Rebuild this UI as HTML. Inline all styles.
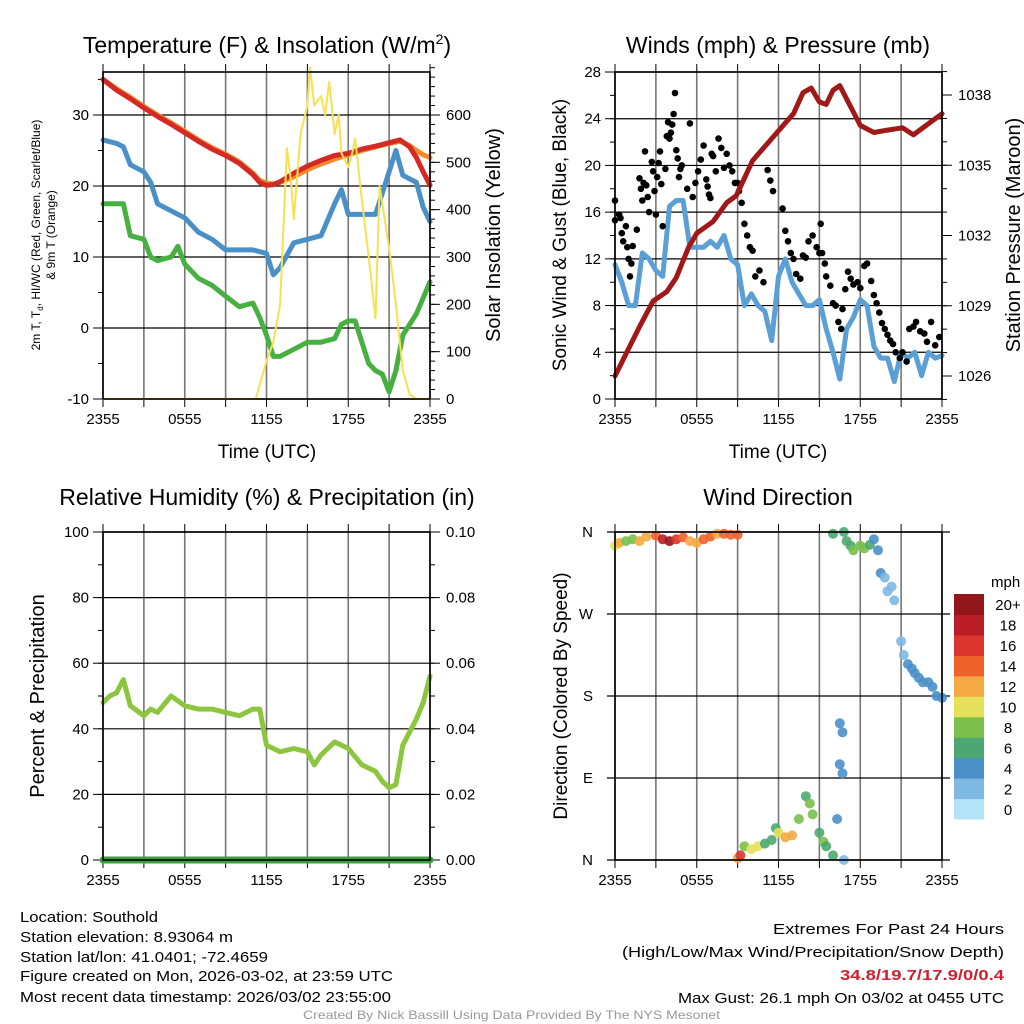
<!DOCTYPE html>
<html><head><meta charset="utf-8"><style>
html,body{margin:0;padding:0;background:#fff}
svg{display:block;font-family:"Liberation Sans",sans-serif}
</style></head><body>
<svg id="fig" width="1024" height="1024" viewBox="0 0 1024 1024" xmlns="http://www.w3.org/2000/svg">
<g font-size="23" text-anchor="middle" fill="#000">
<text x="267" y="53">Temperature (F) &amp; Insolation (W/m<tspan dy="-9" font-size="14">2</tspan><tspan dy="9">)</tspan></text>
<text x="778" y="53">Winds (mph) &amp; Pressure (mb)</text>
<text x="267" y="505">Relative Humidity (%) &amp; Precipitation (in)</text>
<text x="778" y="505">Wind Direction</text>
</g>
<g id="layer"></g>
<g font-size="15" fill="#000">
<text x="20" y="922" textLength="138" lengthAdjust="spacingAndGlyphs">Location: Southold</text>
<text x="20" y="942" textLength="213" lengthAdjust="spacingAndGlyphs">Station elevation: 8.93064 m</text>
<text x="20" y="962" textLength="248" lengthAdjust="spacingAndGlyphs">Station lat/lon: 41.0401; -72.4659</text>
<text x="20" y="981" textLength="373" lengthAdjust="spacingAndGlyphs">Figure created on Mon, 2026-03-02, at 23:59 UTC</text>
<text x="20" y="1002" textLength="371" lengthAdjust="spacingAndGlyphs">Most recent data timestamp: 2026/03/02 23:55:00</text>
</g>
<g font-size="15" fill="#000">
<text x="773" y="934" textLength="231" lengthAdjust="spacingAndGlyphs">Extremes For Past 24 Hours</text>
<text x="622" y="957" textLength="382" lengthAdjust="spacingAndGlyphs">(High/Low/Max Wind/Precipitation/Snow Depth)</text>
<text x="840" y="980" textLength="164" lengthAdjust="spacingAndGlyphs" fill="#d02030" font-weight="bold">34.8/19.7/17.9/0/0.4</text>
<text x="678" y="1003" textLength="326" lengthAdjust="spacingAndGlyphs">Max Gust: 26.1 mph On 03/02 at 0455 UTC</text>
</g>
<text x="303" y="1019" font-size="12" fill="#999" textLength="417" lengthAdjust="spacingAndGlyphs">Created By Nick Bassill Using Data Provided By The NYS Mesonet</text>
</svg>
<script>
// ---------- data ----------
const xTickLabels = ["2355","0555","1155","1755","2355"];
const tempHours = [0,1,2,3,4,5,6,7,8,9,10,11,11.5,12,12.5,13,14,15,16,17,18,19,20,21,21.8,22.5,23,23.5,24];
const tempRed   = [35,33.5,32.3,31,29.8,28.7,27.5,26.3,25.2,24.3,23.2,21.6,20.5,20.1,20.2,20.6,21.8,22.8,23.6,24.3,24.6,25.2,25.6,26.1,26.5,25.5,24,22,20.1];
const tempOrange= [35,33.7,32.5,31.2,30,28.9,27.7,26.5,25.4,24.5,23.4,21.8,20.8,20.4,20.3,20.5,21.3,22.3,23.1,23.8,24.4,25,25.5,26,26.3,25.7,25,24.4,24];
const dewHours = [0,1,1.5,2,3,3.5,4,5,6,7,8,9,10,11,12,12.5,13,14,15,16,17,17.5,18,19,20,21,21.5,22,23,23.5,24];
const dewBlue  = [26.5,26,25.5,23,22,20.5,17.5,16.5,15.5,13.5,12.5,11,11,11,10.5,7.5,8.5,12,12.5,13,17.5,19.5,16,16,16,22,25,21.5,20.5,17,15];
const wcHours = [0,1,1.5,2,3,3.5,4,5,5.5,6,7,8,9,10,11,11.5,12,12.5,13,14,15,16,17,17.5,18,18.5,19,19.5,20,20.5,21,21.5,22,23,24];
const wcGreen = [17.5,17.5,17.5,13,12.5,10,9.5,10,11.5,9,7,6,4.5,3,3.5,1.5,-1,-4,-4,-3,-2,-2,-1.5,0.5,1,1,-2,-5,-6,-6.5,-9,-6,-1,2,6.5];
const solHours = [0,11.2,11.5,12,12.5,13,13.5,13.8,14,14.5,15,15.2,15.5,16,16.3,16.6,17,17.3,17.5,18,18.3,18.5,19,19.5,20,20.3,21,21.5,22,22.5,23,24];
const solVals  = [0,0,30,80,120,200,530,460,380,560,620,700,620,640,600,670,560,600,520,490,520,550,420,300,170,450,320,200,60,10,0,0];
const windHours = [0,0.5,1,1.5,2,2.5,3,3.5,4,4.5,5,5.5,6,6.5,7,7.5,8,8.5,9,9.5,10,10.5,11,11.5,12,12.5,13,13.5,14,14.5,15,15.5,16,16.5,17,17.5,18,18.5,19,19.5,20,20.5,21,21.5,22,22.5,23,23.5,24];
const windVals  = [11.5,10,8,8,12.5,12,11,10.5,16.5,17,17,13,13,13,13.5,13,14,12,11.5,8,9,8,7.5,5,10.5,12,10,9,8,8,8.5,6,4,1.7,6,7,8.5,8,4.5,3.5,3.5,1.5,4,3.5,4,2,4,3.5,3.7];
const presHours = [0,1.8,2.8,3.8,4.5,5.4,6,7.2,8.2,8.9,10.1,11.6,13.1,13.8,14.4,15,15.5,16,16.5,17.2,18,19,20,21.1,21.9,22.6,24];
const presVals  = [1026,1028.1,1029.2,1029.6,1030.2,1031.5,1032.1,1032.6,1033.4,1033.7,1035.2,1036.2,1037.2,1038.1,1038.3,1037.7,1037.6,1038.2,1038.4,1037.6,1036.7,1036.4,1036.5,1036.6,1036.3,1036.6,1037.2];
const gustHours = [0,0,0.3,0.4,0.5,0.6,0.8,0.9,1,1.1,1.2,1.3,1.6,1.8,1.9,2,2.1,2.2,2.3,2.4,2.5,2.7,2.8,2.9,3,3.1,3.2,3.3,3.4,3.5,3.7,3.8,3.9,4,4.1,4.2,4.3,4.4,4.5,4.6,4.7,4.8,4.9,5.3,5.5,5.7,5.9,6.1,6.3,6.5,6.7,6.8,6.9,7,7.1,7.2,7.4,7.6,7.8,8,8.2,8.4,8.6,8.8,9,9.1,9.3,9.5,9.7,9.9,10.1,10.3,10.6,10.9,11.2,11.4,11.6,12.3,12.5,12.7,12.9,13.1,13.3,13.6,13.8,14,14.2,14.5,14.8,15,15.1,15.2,15.4,15.5,15.8,16,16.2,16.4,16.6,16.7,16.9,17.1,17.3,17.5,17.8,18,18.3,18.5,18.8,19,19.2,19.4,19.6,19.8,20,20.2,20.4,20.6,20.9,21.1,21.4,21.6,21.9,22.1,22.4,22.7,22.9,23.2,23.5,23.8];
const gustVals  = [17,15.3,15.8,15.5,14.2,13.5,14.8,13,12,10.5,11.6,13.1,14.5,18.9,18,17,18.5,21.2,18.3,17.3,16,20.3,19.5,17.8,15.8,19,20.2,21.2,18.4,14.8,19.7,22.5,23.7,22.3,22.8,23.5,24.4,26.2,21.3,20.6,19,19.7,20,18,23.6,17.3,18.5,19.5,20.5,21.7,18.8,18.2,17.5,17.2,21,20.8,19.5,22.3,21.5,19.8,21,20,19.5,18.5,18.5,17.8,16.8,15,14,13,12.7,10.5,11,10,19.6,18.7,17.8,16.3,14.4,13.5,12.5,12,10.7,10.3,12.3,12.1,13.5,14,13,12.5,15,12.5,11.6,10.5,9.7,8.2,8,6.6,6,7.7,9.4,10.9,10.3,9.8,10,9.5,11.4,11.6,10.1,8.9,8.2,7.4,6.5,6,5.5,5,4.7,4,3.5,4,3.2,6,6.2,6.6,5.8,5.6,4.9,6.6,4.6,5.3,4.8,5.5,4.6,5.4];
const rhHours = [0,0.5,1,1.5,2,3,3.5,4,5,6,7,8,9,10,11,11.5,12,13,14,15,15.5,16,17,18,19,20,20.5,21,21.5,22,23,23.5,24];
const rhVals  = [48,50,51,55,47,44,46,45,50,47,46,46,45,44,46,46,35,33,34,33,29,32,36,34,29,27,24,22,23,35,43,48,56];
const precipHours = [0,24];
const precipVals  = [0,0];
const dirHours = [0,0.3,0.8,1.3,1.8,2.3,3,3.5,4,4.5,5,5.5,6,6.5,7,7.5,8,8.5,9, 9,9.2,9.5,10,10.5,11,11.5,11.8,12,12.5,13,13.5,14,14.3,14.5,15,15.3,15.5,16,16.3,16.5,16.7,16.5,16.7,16.8, 16,16.8,17,17.3,17.5,18,18.3,18.7,19,19.3,19.5,19.8,20,20.3,20.5,21,21.2,21.5,21.8,22,22.3,22.6,23,23.3,23.6,24];
const dirDeg   = [345,348,350,352,350,355,356,352,350,352,354,350,348,352,355,358,358,357,357, 2,5,15,12,15,18,22,35,30,25,27,45,70,62,50,30,20,15,5,45,105,95,150,140,0, 358,360,350,345,340,345,342,346,352,340,315,310,295,300,285,240,225,215,210,205,200,195,195,190,180,178];
const dirSpeed = [10,12,8,8,12,12,14,18,20,16,14,12,12,14,14,12,14,14,14, 12,16,8,10,10,6,6,6,10,12,12,8,6,8,8,6,8,6,6,4,4,4,4,4,2, 6,6,6,6,8,8,8,6,4,4,4,2,2,2,2,2,2,4,4,4,4,4,4,4,4,4];
const cbarLabels = ["0","2","4","6","8","10","12","14","16","18","20+"];
const cbarColors = ["#b3e3f7","#7db9e3","#4a90c8","#4aa870","#7ac04a","#e6e05a","#f5a945","#ef632b","#dc352d","#bb1e27","#93161a"];
const dirLabels = ["N","E","S","W","N"];

// ---------- helpers ----------
const NS="http://www.w3.org/2000/svg";
const layer=document.getElementById('layer');
function mk(tag,attrs,parent){const e=document.createElementNS(NS,tag);for(const k in attrs)e.setAttribute(k,attrs[k]);(parent||layer).appendChild(e);return e;}
function lin(d0,d1,r0,r1){return v=>r0+(v-d0)*(r1-r0)/(d1-d0);}
function pathFrom(xs,ys,fx,fy){return xs.map((h,i)=>(i?'L':'M')+fx(h).toFixed(1)+','+fy(ys[i]).toFixed(1)).join(' ');}

function frame(L,T,R,B,name){
  const g=mk('g',{});
  
  
  const fx=lin(0,24,L,R);
  for(let i=0;i<=8;i++){
    const x=fx(i*3);
    const gl=mk('line',{x1:x,y1:T,x2:x,y2:B,stroke:'#777','stroke-width':1.6},g);
    
    
    const t1=mk('line',{x1:x,y1:T-8,x2:x,y2:T,stroke:'#000','stroke-width':1},g);
    
    
    const t2=mk('line',{x1:x,y1:B,x2:x,y2:B+8,stroke:'#000','stroke-width':1},g);
    
    
  }
  for(let i=0;i<xTickLabels.length;i++){
    const t=mk('text',{x:fx(i*6),y:B+25,'font-size':15,'text-anchor':'middle'},g);
    
    
    t.textContent=xTickLabels[i];
  }
  return {g,fx};
}
function border(L,T,R,B,g){
  const r=mk('rect',{x:L,y:T,width:R-L,height:B-T,fill:'none',stroke:'#000','stroke-width':1.6},g);
  
  
}
function yAxis(g,side,x,fy,major,minor,labels,T,B,L,R,grid){
  const dir=side==='left'?-1:1;
  minor.forEach(v=>{const y=fy(v);const t=mk('line',{x1:x,y1:y,x2:x+dir*5,y2:y,stroke:'#000','stroke-width':1},g);
    
    });
  major.forEach((v,i)=>{const y=fy(v);
    if(grid){const gl=mk('line',{x1:L,y1:y,x2:R,y2:y,stroke:'#000','stroke-width':1.2},g);
      
      }
    const t=mk('line',{x1:x,y1:y,x2:x+dir*10,y2:y,stroke:'#000','stroke-width':1},g);
    
    
    const tx=mk('text',{x:x+dir*(side==='left'?14:16),y:y+5,'font-size':15,'text-anchor':side==='left'?'end':'start'},g);
    
    
    tx.textContent=labels[i];});
}
function rng(a,b,s){const o=[];for(let v=a;v<=b+1e-9;v+=s)o.push(+v.toFixed(4));return o;}
function line(g,d,color,w,name){const p=mk('path',{d:d,fill:'none',stroke:color,'stroke-width':w,'stroke-linejoin':'round','stroke-linecap':'round'},g);
  
  }
function vlabel(g,x,y,txt,size,name){const t=mk('text',{x:x,y:y,'font-size':size,'text-anchor':'middle',transform:`rotate(-90 ${x} ${y})`},g);
  
  
  t.textContent=txt;return t;}
function xtitle(g,x,y,name){const t=mk('text',{x:x,y:y,'font-size':19,'text-anchor':'middle'},g);
  
  
  t.textContent='Time (UTC)';}

// ---------- panel 1: temperature ----------
{
 const L=103,T=72,R=430,B=399;
 const {g,fx}=frame(L,T,R,B,'temperature-panel');
 const fy=lin(-10,30,399,115), fs=lin(0,600,399,115);
 yAxis(g,'left',L,fy,[-10,0,10,20,30],rng(-10,35,5),["-10","0","10","20","30"],T,B,L,R,true);
 yAxis(g,'right',R,fs,[0,100,200,300,400,500,600],rng(0,700,20),["0","100","200","300","400","500","600"],T,B,L,R,false);
 line(g,pathFrom(wcHours,wcGreen,fx,fy),'#46b040',5,'windchill-line');
 line(g,pathFrom(dewHours,dewBlue,fx,fy),'#4a90c8',5,'dewpoint-line');
 line(g,pathFrom(tempHours,tempOrange,fx,fy),'#f58a2a',5,'temp-9m-line');
 line(g,pathFrom(tempHours,tempRed,fx,fy),'#d42a26',5,'temp-2m-line');
 line(g,pathFrom(solHours,solVals,fx,fs),'#f8e050',2,'insolation-line');
 border(L,T,R,B,g);
 const t=mk('text',{x:0,y:0,'font-size':12,'text-anchor':'middle',transform:'translate(40,235) rotate(-90)'},g);
 
 
 t.innerHTML='<tspan x="0" dy="0">2m T, T<tspan font-size="8" dy="3">d</tspan><tspan dy="-3">, HI/WC (Red, Green, Scarlet/Blue)</tspan></tspan><tspan x="0" dy="15">&amp; 9m T (Orange)</tspan>';
 vlabel(g,500,235,'Solar Insolation (Yellow)',20,'insolation-y-axis-title');
 xtitle(g,267,458,'temperature-x-axis-title');
}
// ---------- panel 2: winds ----------
{
 const L=615,T=72,R=942,B=399;
 const {g,fx}=frame(L,T,R,B,'winds-panel');
 const fy=lin(0,28,399,72), fp=lin(1026,1038,376,95);
 yAxis(g,'left',L,fy,rng(0,28,4),rng(0,28,2),["0","4","8","12","16","20","24","28"],T,B,L,R,true);
 yAxis(g,'right',R,fp,[1026,1029,1032,1035,1038],rng(1025,1039,1),["1026","1029","1032","1035","1038"],T,B,L,R,false);
 line(g,pathFrom(windHours,windVals,fx,fy),'#5a9fd6',5,'sonic-wind-line');
 gustHours.forEach((h,i)=>{const c=mk('circle',{cx:fx(h).toFixed(1),cy:fy(gustVals[i]).toFixed(1),r:3.3,fill:'#000'},g);
   
   });
 line(g,pathFrom(presHours,presVals,fx,fp),'#a01818',5,'pressure-line');
 border(L,T,R,B,g);
 vlabel(g,566,235,'Sonic Wind & Gust (Blue, Black)',19,'wind-y-axis-title');
 vlabel(g,1020,235,'Station Pressure (Maroon)',20,'pressure-y-axis-title');
 xtitle(g,778,458,'winds-x-axis-title');
}
// ---------- panel 3: humidity ----------
{
 const L=103,T=532,R=430,B=860;
 const {g,fx}=frame(L,T,R,B,'humidity-panel');
 const fy=lin(0,100,860,532), fpr=lin(0,0.1,860,532);
 yAxis(g,'left',L,fy,rng(0,100,20),rng(0,100,10),["0","20","40","60","80","100"],T,B,L,R,true);
 yAxis(g,'right',R,fpr,rng(0,0.1,0.02),rng(0,0.1,0.01),["0.00","0.02","0.04","0.06","0.08","0.10"],T,B,L,R,false);
 line(g,pathFrom(rhHours,rhVals,fx,fy),'#8cc63f',5,'humidity-line');
 line(g,pathFrom(precipHours,precipVals,fx,fpr),'#3aa040',7,'precipitation-line');
 border(L,T,R,B,g);
 vlabel(g,44,696,'Percent & Precipitation',20,'humidity-y-axis-title');
}
// ---------- panel 4: wind direction ----------
{
 const L=615,T=532,R=942,B=860;
 const {g,fx}=frame(L,T,R,B,'direction-panel');
 const fd=lin(0,360,860,532);
 [0,90,180,270,360].forEach((v,i)=>{const y=fd(v);
   const gl=mk('line',{x1:L-8,y1:y,x2:R+8,y2:y,stroke:'#000','stroke-width':1.2},g);
   
   
   const t=mk('text',{x:L-22,y:y+5,'font-size':15,'text-anchor':'end'},g);
   
   
   t.textContent=dirLabels[i];});
 dirHours.forEach((h,i)=>{const idx=Math.min(10,Math.floor(dirSpeed[i]/2));
   const c=mk('circle',{cx:fx(h).toFixed(1),cy:fd(dirDeg[i]).toFixed(1),r:5,fill:cbarColors[idx],'fill-opacity':0.9},g);
   
   });
 border(L,T,R,B,g);
 vlabel(g,567,696,'Direction (Colored By Speed)',19,'direction-y-axis-title');
 const cb=mk('g',{},g);
 
 
 const bh=225/cbarColors.length;
 cbarColors.forEach((c,i)=>{const y=819-(i+1)*bh;
   const r=mk('rect',{x:954,y:y.toFixed(1),width:30,height:(bh+0.5).toFixed(1),fill:c},cb);
   
   
   const t=mk('text',{x:1008,y:(y+bh/2+6).toFixed(1),'font-size':15,'text-anchor':'middle'},cb);
   
   
   t.textContent=cbarLabels[i];});
 const u=mk('text',{x:991,y:587,'font-size':15},cb);
 
 
 u.textContent='mph';
}
</script>
</body></html>
